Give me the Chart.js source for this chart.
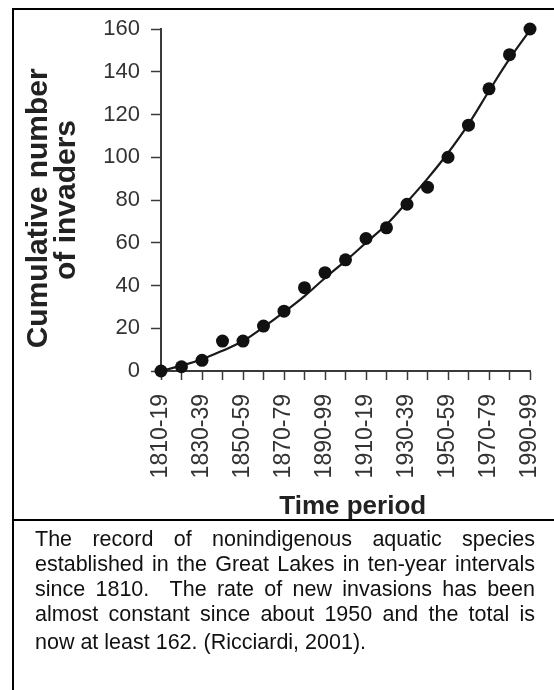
<!DOCTYPE html>
<html>
<head>
<meta charset="utf-8">
<script src="https://cdn.jsdelivr.net/npm/chart.js@4.4.0/dist/chart.umd.min.js"></script>
<style>
  html, body { margin: 0; padding: 0; background: #fff; }
  body { width: 554px; height: 690px; position: relative; overflow: hidden; font-family: "Liberation Sans", Arial, sans-serif; }
  #chartBox { position: absolute; left: 0; top: 0; width: 554px; height: 520px; }
  .rule { position: absolute; background: #000; }
  #caption { position: absolute; left: 35px; top: 527px; width: 500px; font-size: 21.5px; line-height: 25px; color: #111; }
  #caption div { text-align: justify; text-align-last: justify; white-space: nowrap; }
  #caption div.last { text-align-last: left; margin-top: 3px; }
</style>
</head>
<body>
<div id="chartBox"><canvas id="chart" width="554" height="520"></canvas></div>
<div class="rule" style="left:12px;top:8px;width:542px;height:2px"></div>
<div class="rule" style="left:12px;top:8px;width:2px;height:682px"></div>
<div class="rule" style="left:12px;top:519px;width:542px;height:2px"></div>
<div id="caption">
  <div>The record of nonindigenous aquatic species</div>
  <div>established in the Great Lakes in ten-year intervals</div>
  <div>since 1810.&nbsp; The rate of new invasions has been</div>
  <div>almost constant since about 1950 and the total is</div>
  <div class="last">now at least 162. (Ricciardi, 2001).</div>
</div>
<script>
  // ten-year periods
  const periods = ['1810-19', '1820-29', '1830-39', '1840-49', '1850-59', '1860-69', '1870-79',
    '1880-89', '1890-99', '1900-09', '1910-19', '1920-29', '1930-39', '1940-49', '1950-59',
    '1960-69', '1970-79', '1980-89', '1990-99'];
  // cumulative number of invaders (dots)
  const invaders = [0, 2, 5, 14, 14, 21, 28, 39, 46, 52, 62, 67, 78, 86, 100, 115, 132, 148, 160];
  // fitted curve at each period
  const fitted = [0, 2.5, 5.5, 9.5, 14, 20.5, 27.5, 35, 43.5, 51.5, 60, 68.5, 79, 90, 102, 115.5, 131, 146, 159.5];
  const yTicks = [0, 20, 40, 60, 80, 100, 120, 140, 160];

  const axisColor = '#3a3a3a';
  const fontFamily = '"Liberation Sans", Arial, Helvetica, sans-serif';

  const ctx = document.getElementById('chart').getContext('2d');
  new Chart(ctx, {
    type: 'line',
    data: {
      labels: periods,
      datasets: [{
        label: 'Cumulative number of invaders',
        data: invaders,
        showLine: false,
        pointRadius: 6.5,
        pointBackgroundColor: '#111',
        pointBorderColor: '#111',
        pointBorderWidth: 0,
        clip: false,
        order: 0
      }, {
        label: 'Fit',
        data: fitted,
        borderColor: '#1a1a1a',
        borderWidth: 2.2,
        pointRadius: 0,
        tension: 0.4,
        fill: false,
        clip: false,
        order: 1
      }]
    },
    options: {
      responsive: false,
      animation: false,
      layout: { padding: { left: 0, top: 29, right: 24, bottom: 0 } },
      plugins: {
        legend: { display: false },
        tooltip: { enabled: false }
      },
      scales: {
        x: {
          offset: false,
          border: { display: true, color: axisColor, width: 2 },
          grid: { display: true, drawOnChartArea: false, drawTicks: true, tickLength: 9, tickWidth: 1.5, tickColor: axisColor },
          ticks: {
            autoSkip: false,
            minRotation: 90,
            maxRotation: 90,
            padding: 14,
            color: '#333',
            font: { family: fontFamily, size: 23 },
            callback: function (value, index) { return index % 2 === 0 ? periods[index] : ''; }
          },
          title: {
            display: true,
            text: '  Time period',
            color: '#222',
            padding: { top: 0, bottom: 0 },
            font: { family: fontFamily, size: 26, weight: 'bold', lineHeight: 1.0 }
          },
          afterFit: function (scale) {
            scale.height = 149;
            scale.paddingLeft = 0;
            scale.paddingRight = 0;
          }
        },
        y: {
          min: 0,
          max: 160,
          afterBuildTicks: function (scale) {
            scale.ticks = yTicks.map(function (v) { return { value: v }; });
          },
          border: { display: true, color: axisColor, width: 2 },
          grid: { display: true, drawOnChartArea: false, drawTicks: true, tickLength: 10, tickWidth: 1.5, tickColor: axisColor },
          ticks: {
            padding: 11,
            color: '#333',
            font: { family: fontFamily, size: 22 }
          },
          title: {
            display: true,
            text: ['Cumulative number  ', 'of invaders'],
            color: '#222',
            padding: { top: 25, bottom: 0 },
            font: { family: fontFamily, size: 30, weight: 'bold', lineHeight: 0.93 }
          },
          afterFit: function (scale) {
            scale.width = 161;
            scale.paddingTop = 0;
            scale.paddingBottom = 0;
          }
        }
      }
    }
  });
</script>
</body>
</html>
